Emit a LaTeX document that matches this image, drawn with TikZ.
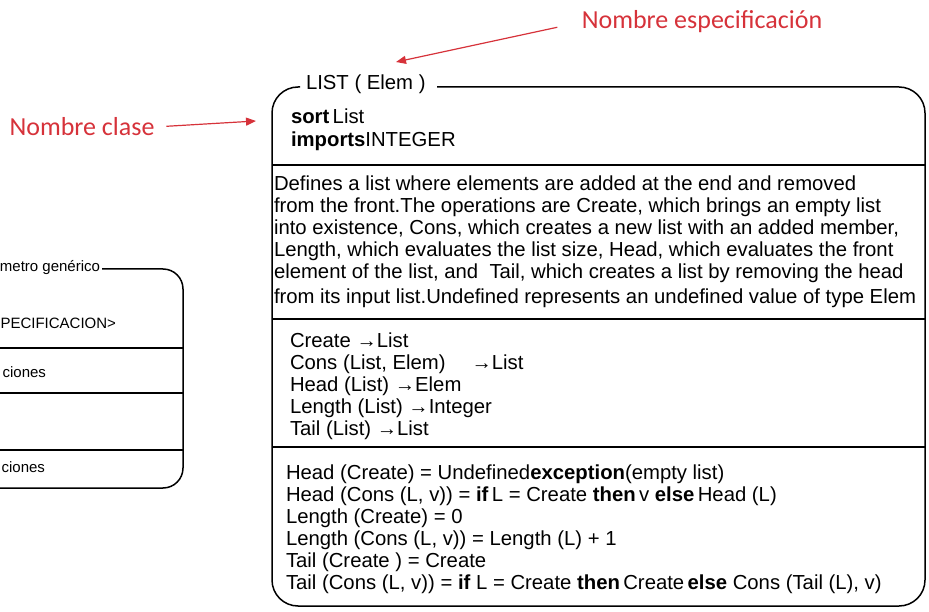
\documentclass[tikz,border=0pt]{standalone}
\usepackage{fontspec}
\setmainfont{Liberation Sans}
\newfontfamily\calib{Carlito}
\usetikzlibrary{positioning,arrows.meta}
\definecolor{labelred}{RGB}{214,50,58}

\begin{document}
\begin{tikzpicture}[x=1pt,y=-1pt
		,every node/.append style={inner sep=0pt, outer sep=0pt}
		,t/.style={anchor=north west, align=left, font=\fontsize{20.3}{22}\selectfont}
		,s/.style={anchor=east, font=\fontsize{15}{17}\selectfont}
		,r/.style={text=labelred, font=\calib\fontsize{26}{30}\selectfont}
		,ra/.style={draw=labelred, line width=1.2pt, -{Triangle[length=10pt,width=8pt]}}
		,box/.style={line width=1.5pt, rounded corners=26pt}
		,bar/.style={line width=2.2pt}
	]
	\useasboundingbox (0,0) rectangle (929,612);
	% generic spec box, cut by the left edge
	\draw[box, rounded corners=20pt] (102,269) -- (183,269) -- (183,488) -- (-20,488);
	\draw[line width=1.3pt] (-20,348) -- (183,348);
	\draw[line width=1.3pt] (-20,393) -- (183,393);
	\draw[line width=1.3pt] (-20,450) -- (183,450);
	\node[s] (param) at (100,268) {metro genérico};
	\node[s] (gname) at (116,323) {PECIFICACION>};
	\node[s] (gops) at (46,372) {ciones};
	\node[s] (geqs) at (45,467) {ciones};
	% LIST spec
	\draw[box] (437,87) -- (925,87) -- (925,606) -- (272,606) -- (272,87) -- (300,87);
	\draw[bar] (272,165) -- (925,165);
	\draw[bar] (272,319) -- (925,319);
	\draw[bar] (272,447) -- (925,447);
	\node[t, anchor=west] (title) at (306,84) {LIST ( Elem )};
	\node[t] (sorts) at (291,109) {\textbf{sort}\,List\\[1pt]\textbf{imports}INTEGER};
	\node[t] (desc) at (274,176) {Defines a list where elements are added at the end and removed\\
		from the front.The operations are Create, which brings an empty list\\
		into existence, Cons, which creates a new list with an added member,\\
		Length, which evaluates the list size, Head, which evaluates the front\\
		element of the list, and\ \ Tail, which creates a list by removing the head\\[3pt]
		from its input list.Undefined represents an undefined value of type Elem};
	\node[t] (ops) at (290,333) {Create →List\\
		Cons (List, Elem)\quad\ →List\\
		Head (List) →Elem\\
		Length (List) →Integer\\
		Tail (List) →List};
	\node[t] (eqns) at (286,465) {Head (Create) = Undefined\textbf{exception}(empty list)\\
		Head (Cons (L, v)) = \textbf{if}\,L = Create \textbf{then}\,v \textbf{else}\,Head (L)\\
		Length (Create) = 0\\
		Length (Cons (L, v)) = Length (L) + 1\\
		Tail (Create ) = Create\\
		Tail (Cons (L, v)) = \textbf{if} L = Create \textbf{then}\,Create\,\textbf{else} Cons (Tail (L), v)};
	% red labels
	\coordinate (clasetip) at (256,121);
	\node[r] (clase) at (82,127) {Nombre clase};
	\draw[ra, shorten <=12pt] (clase.east) -- (clasetip);
	\coordinate (spectip) at (396,62);
	\node[r] (spec) at (702,22) {Nombre especificación};
	\draw[ra, shorten <=25pt] (spec.west) -- (spectip);
\end{tikzpicture}
\end{document}
